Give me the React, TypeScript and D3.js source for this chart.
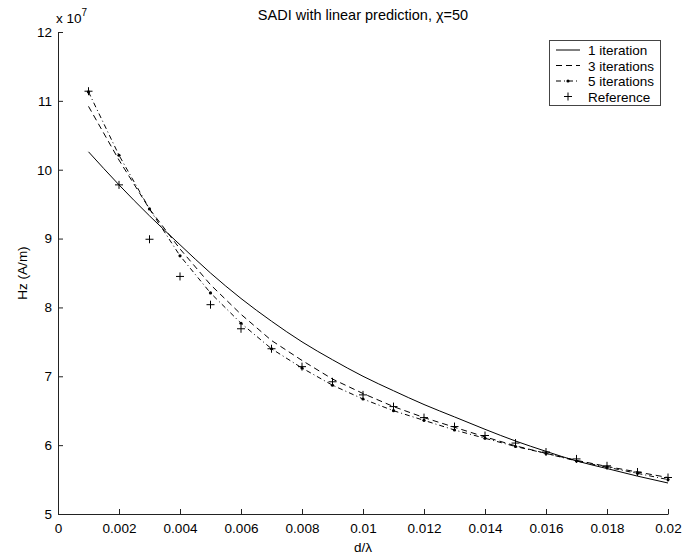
import { useEffect, useRef } from "react";
import * as d3 from "d3";

// d/lambda sample points
const dLambda = [
  0.001, 0.002, 0.003, 0.004, 0.005, 0.006, 0.007, 0.008, 0.009, 0.01,
  0.011, 0.012, 0.013, 0.014, 0.015, 0.016, 0.017, 0.018, 0.019, 0.02,
];

// Hz values, in units of 1e7 A/m
const iter1 = [
  10.26, 9.78, 9.33, 8.91, 8.5, 8.13, 7.8, 7.5, 7.24, 7.0,
  6.79, 6.59, 6.41, 6.23, 6.06, 5.91, 5.77, 5.66, 5.55, 5.45,
];
const iter3 = [
  10.92, 10.14, 9.43, 8.85, 8.33, 7.9, 7.52, 7.23, 6.96, 6.75,
  6.56, 6.4, 6.26, 6.12, 5.99, 5.88, 5.78, 5.69, 5.61, 5.53,
];
const iter5 = [
  11.13, 10.21, 9.43, 8.75, 8.21, 7.77, 7.4, 7.12, 6.87, 6.67,
  6.5, 6.36, 6.22, 6.1, 5.98, 5.88, 5.77, 5.68, 5.59, 5.5,
];
const reference = [
  11.14, 9.78, 8.99, 8.45, 8.04, 7.69, 7.4, 7.14, 6.92, 6.73,
  6.56, 6.4, 6.27, 6.14, 6.03, 5.9, 5.8, 5.7, 5.61, 5.53,
];

const xTicks = [0, 0.002, 0.004, 0.006, 0.008, 0.01, 0.012, 0.014, 0.016, 0.018, 0.02];
const yTicks = [5, 6, 7, 8, 9, 10, 11, 12];
const legendLabels = ["1 iteration", "3 iterations", "5 iterations", "Reference"];

const FONT = "'Liberation Sans', Arial, Helvetica, sans-serif";
const FS = 13.5;

const Chart = () => {
  const ref = useRef<SVGSVGElement>(null);

  useEffect(() => {
    const width = 693, height = 555;
    const margin = { top: 32, right: 25, bottom: 41, left: 58 };

    const svg = d3.select(ref.current).attr("width", width).attr("height", height);
    svg.selectAll("*").remove();

    const x = d3.scaleLinear().domain([0, 0.02]).range([margin.left, width - margin.right]);
    const y = d3.scaleLinear().domain([5, 12]).range([height - margin.bottom, margin.top]);

    const g = svg.append("g").attr("font-family", FONT).attr("font-size", FS);

    // axes
    const xAxis = g.append("g")
      .attr("transform", `translate(0,${height - margin.bottom})`)
      .call(d3.axisBottom(x).tickValues(xTicks).tickSizeInner(-5).tickSizeOuter(0)
        .tickPadding(9).tickFormat(d => `${+d}`));
    const yAxis = g.append("g")
      .attr("transform", `translate(${margin.left},0)`)
      .call(d3.axisLeft(y).tickValues(yTicks).tickSizeInner(-5).tickSizeOuter(0)
        .tickPadding(6).tickFormat(d => `${d}`));
    [xAxis, yAxis].forEach(a => {
      a.attr("font-family", FONT).attr("font-size", FS);
      a.select(".domain").attr("stroke", "#222");
      a.selectAll(".tick line").attr("stroke", "#222");
      a.selectAll(".tick text").attr("fill", "#000");
    });

    const seriesPts = (vals: number[]) => vals.map((v, i) => [dLambda[i], v] as [number, number]);
    const line = d3.line<[number, number]>().x(d => x(d[0])).y(d => y(d[1]));
    const smooth = d3.line<[number, number]>().x(d => x(d[0])).y(d => y(d[1])).curve(d3.curveMonotoneX);

    // 1 iteration
    g.append("path").datum(seriesPts(iter1))
      .attr("fill", "none").attr("stroke", "#000").attr("stroke-width", 1)
      .attr("d", smooth);
    // 3 iterations
    g.append("path").datum(seriesPts(iter3))
      .attr("fill", "none").attr("stroke", "#000").attr("stroke-width", 1)
      .attr("stroke-dasharray", "6,4")
      .attr("d", line);
    // 5 iterations
    g.append("path").datum(seriesPts(iter5))
      .attr("fill", "none").attr("stroke", "#000").attr("stroke-width", 1)
      .attr("stroke-dasharray", "5,3,1,3")
      .attr("d", line);
    g.append("g").selectAll("circle").data(seriesPts(iter5)).join("circle")
      .attr("cx", d => x(d[0])).attr("cy", d => y(d[1])).attr("r", 1.6).attr("fill", "#000");
    // reference
    g.append("g").selectAll("path").data(seriesPts(reference)).join("path")
      .attr("transform", d => `translate(${x(d[0])},${y(d[1])})`)
      .attr("d", "M-4,0H4M0,-4V4")
      .attr("stroke", "#000").attr("stroke-width", 1).attr("fill", "none");

    // title and labels
    g.append("text").attr("x", (margin.left + width - margin.right) / 2).attr("y", 20)
      .attr("text-anchor", "middle").attr("font-size", 14.5).text("SADI with linear prediction, χ=50");
    g.append("text").attr("x", (margin.left + width - margin.right) / 2).attr("y", 552)
      .attr("text-anchor", "middle").text("d/λ");
    g.append("text").attr("transform", `translate(27,${(margin.top + height - margin.bottom) / 2}) rotate(-90)`)
      .attr("text-anchor", "middle").text("Hz (A/m)");
    const exp = g.append("text").attr("x", 56).attr("y", 23);
    exp.append("tspan").text("x 10");
    exp.append("tspan").attr("dy", -7).attr("font-size", 10).text("7");

    // legend
    const lg = g.append("g");
    lg.append("rect").attr("x", 549.5).attr("y", 40.5).attr("width", 111).attr("height", 65)
      .attr("fill", "#fff").attr("stroke", "#444").attr("stroke-width", 1);
    const rowY = [50, 65.5, 81, 96.5];
    const dashes = [null, "6,4", "5,3,1,3", null];
    legendLabels.forEach((lab, i) => {
      const yy = rowY[i];
      if (i < 3) {
        lg.append("line").attr("x1", 556).attr("x2", 580).attr("y1", yy).attr("y2", yy)
          .attr("stroke", "#000").attr("stroke-width", 1)
          .attr("stroke-dasharray", dashes[i] ?? null);
      }
      if (i === 2) lg.append("circle").attr("cx", 568).attr("cy", yy).attr("r", 1.6).attr("fill", "#000");
      if (i === 3) lg.append("path").attr("transform", `translate(568,${yy})`)
        .attr("d", "M-4,0H4M0,-4V4").attr("stroke", "#000").attr("fill", "none");
      lg.append("text").attr("x", 588).attr("y", yy + 5).text(lab);
    });
  }, []);

  return <svg ref={ref} style={{ position: "absolute", left: 0, top: 0, background: "#fff" }}></svg>;
};

export default function App() {
  return <Chart />;
}
